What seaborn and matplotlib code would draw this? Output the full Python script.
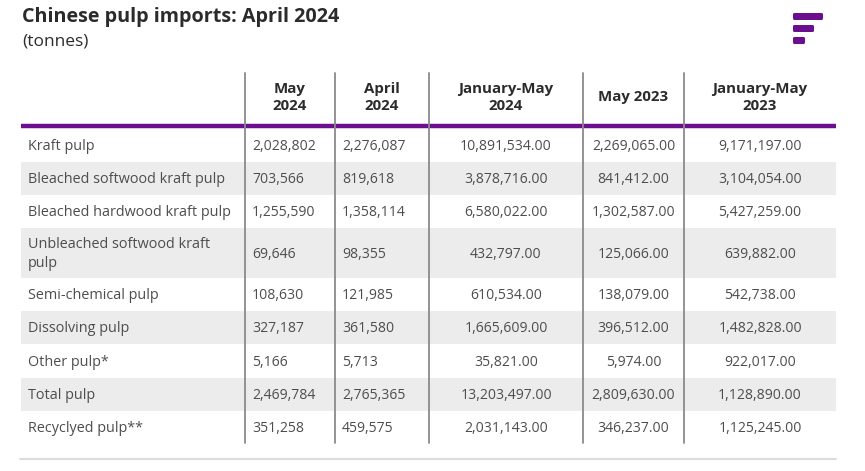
import matplotlib
matplotlib.use("Agg")
import matplotlib.pyplot as plt
from matplotlib.patches import FancyBboxPatch
import seaborn as sns

# ---- data ----
title = "Chinese pulp imports: April 2024"
subtitle = "(tonnes)"
columns = ["May\n2024", "April\n2024", "January-May\n2024", "May 2023", "January-May\n2023"]
categories = ["Kraft pulp", "Bleached softwood kraft pulp", "Bleached hardwood kraft pulp",
              "Unbleached softwood kraft\npulp", "Semi-chemical pulp", "Dissolving pulp",
              "Other pulp*", "Total pulp", "Recyclyed pulp**"]
may_2024 = ["2,028,802", "703,566", "1,255,590", "69,646", "108,630", "327,187", "5,166", "2,469,784", "351,258"]
april_2024 = ["2,276,087", "819,618", "1,358,114", "98,355", "121,985", "361,580", "5,713", "2,765,365", "459,575"]
jan_may_2024 = ["10,891,534.00", "3,878,716.00", "6,580,022.00", "432,797.00", "610,534.00",
                "1,665,609.00", "35,821.00", "13,203,497.00", "2,031,143.00"]
may_2023 = ["2,269,065.00", "841,412.00", "1,302,587.00", "125,066.00", "138,079.00",
            "396,512.00", "5,974.00", "2,809,630.00", "346,237.00"]
jan_may_2023 = ["9,171,197.00", "3,104,054.00", "5,427,259.00", "639,882.00", "542,738.00",
                "1,482,828.00", "922,017.00", "1,128,890.00", "1,125,245.00"]

# ---- layout (pixels) ----
W, H = 865, 471
sns.set_theme(style="white")
plt.rcParams["font.family"] = ["Open Sans", "DejaVu Sans"]

fig = plt.figure(figsize=(W / 100, H / 100), dpi=100)
ax = fig.add_axes([0, 0, 1, 1])
ax.set_xlim(0, W)
ax.set_ylim(H, 0)
ax.axis("off")

purple = "#6c0f8f"
txt = "#4d4d4d"
dark = "#2b2b2b"

ax.text(22, 17, title, fontsize=14.2, fontweight="bold", color=dark, va="center", ha="left")
ax.text(22, 42, subtitle, fontsize=12.5, color=dark, va="center", ha="left")

# logo
for (x0, w), y0 in zip([(793, 30), (793, 21), (793, 12)], [13, 25, 37]):
    ax.add_patch(FancyBboxPatch((x0 + 1.5, y0 + 1.5), w - 3, 4, boxstyle="round,pad=1.5",
                                fc=purple, ec="none"))

left, right = 21, 836
vlines = [245, 335, 429, 583, 684]
col_edges = vlines + [right]
row_edges = [128, 162, 195, 228, 278, 311, 344, 378, 411, 444]

# row shading
for i in range(len(categories)):
    if i % 2 == 1:
        ax.fill_between([left, right], row_edges[i], row_edges[i + 1], color="#ececec", lw=0)

# header
for j, col in enumerate(columns):
    cx = (col_edges[j] + col_edges[j + 1]) / 2
    ax.text(cx, 97.5, col, fontsize=10.8, fontweight="bold", color=dark, ha="center", va="center",
            linespacing=1.35)

ax.plot([left, right], [126, 126], color=purple, lw=3.2, solid_capstyle="butt")
for x in vlines:
    ax.plot([x, x], [73, 443], color="#8a8a8a", lw=1.3)
ax.plot([left - 1, right], [459, 459], color="#dcdcdc", lw=1.5)

values = [may_2024, april_2024, jan_may_2024, may_2023, jan_may_2023]
for i, cat in enumerate(categories):
    cy = (row_edges[i] + row_edges[i + 1]) / 2 + 1
    ax.text(28, cy, cat, fontsize=10.4, color=txt, ha="left", va="center", linespacing=1.4)
    for j, col_vals in enumerate(values):
        if j < 2:
            ax.text(col_edges[j] + 7, cy, col_vals[i], fontsize=10.1, color=txt, ha="left", va="center")
        else:
            cx = (col_edges[j] + col_edges[j + 1]) / 2
            ax.text(cx, cy, col_vals[i], fontsize=10.1, color=txt, ha="center", va="center")

fig.savefig("out.png", dpi=100, facecolor="white")
